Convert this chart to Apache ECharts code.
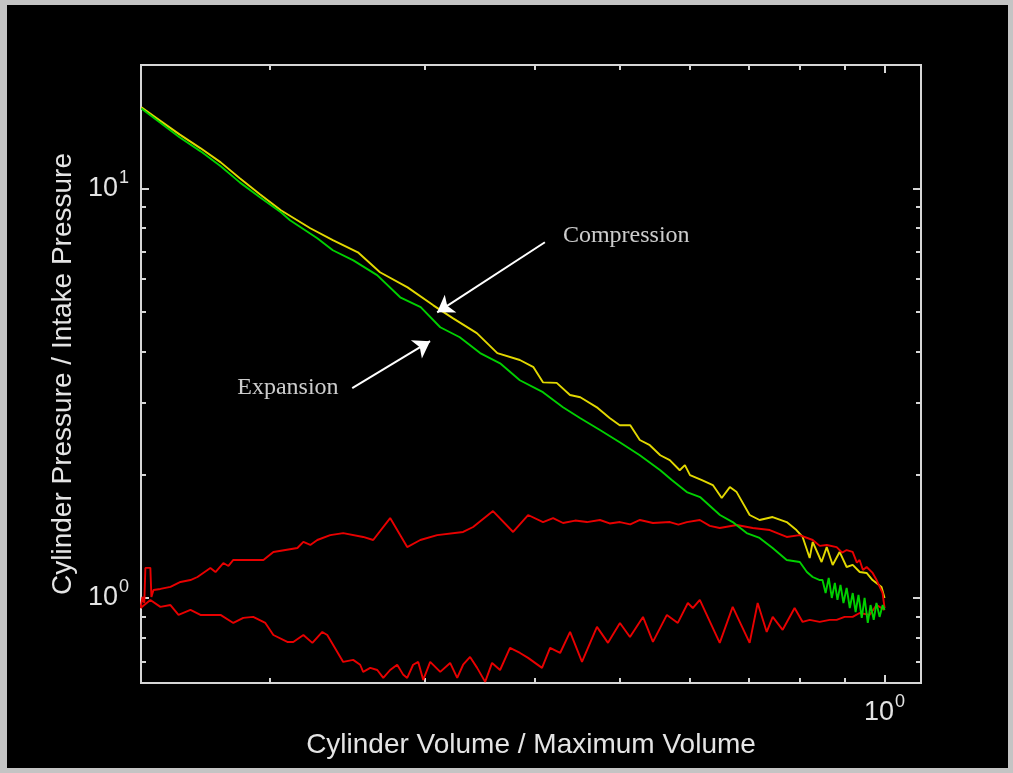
<!DOCTYPE html>
<html>
<head>
<meta charset="utf-8">
<script src="https://cdn.jsdelivr.net/npm/echarts@6/dist/echarts.min.js"></script>
<style>
  html, body { margin: 0; padding: 0; width: 1013px; height: 773px; overflow: hidden; background: #c4c4c4; }
  #chart { position: absolute; left: 7px; top: 5px; width: 1001px; height: 763px; background: #000; }
</style>
</head>
<body>
<div id="chart"></div>
<script>
// Log-log P-V diagram of a motored cylinder: [volume ratio, pressure ratio]
const compression = [
  [0.143, 15.76], [0.150, 14.65], [0.158, 13.54], [0.167, 12.52], [0.176, 11.57],
  [0.185, 10.58], [0.195, 9.67], [0.206, 8.84], [0.2225, 7.99], [0.236, 7.47],
  [0.252, 6.98], [0.267, 6.24], [0.287, 5.73], [0.307, 5.18], [0.323, 4.82],
  [0.344, 4.43], [0.363, 3.96], [0.385, 3.81], [0.399, 3.66], [0.409, 3.36],
  [0.424, 3.35], [0.439, 3.13], [0.451, 3.09], [0.472, 2.91], [0.487, 2.75],
  [0.500, 2.64], [0.514, 2.64], [0.527, 2.43], [0.541, 2.36], [0.556, 2.23],
  [0.570, 2.17], [0.585, 2.05], [0.593, 2.11], [0.601, 1.995], [0.620, 1.94],
  [0.638, 1.886], [0.653, 1.754], [0.667, 1.865], [0.679, 1.813], [0.7025, 1.594],
  [0.721, 1.55], [0.746, 1.576], [0.774, 1.532], [0.794, 1.465], [0.807, 1.409],
  [0.822, 1.252], [0.8285, 1.370], [0.848, 1.224], [0.8595, 1.331], [0.873, 1.204],
  [0.889, 1.295], [0.9055, 1.190], [0.920, 1.204], [0.937, 1.157], [0.954, 1.151],
  [0.969, 1.106], [0.992, 1.064], [1.0, 1.0]
];

const expansion = [
  [0.143, 15.67], [0.150, 14.49], [0.158, 13.32], [0.167, 12.31], [0.176, 11.32],
  [0.185, 10.34], [0.195, 9.51], [0.206, 8.74], [0.211, 8.36], [0.2266, 7.55],
  [0.236, 7.06], [0.249, 6.67], [0.265, 6.14], [0.2815, 5.42], [0.297, 5.13],
  [0.3126, 4.58], [0.329, 4.33], [0.347, 3.96], [0.3656, 3.74], [0.385, 3.40],
  [0.409, 3.18], [0.431, 2.92], [0.4506, 2.75], [0.4748, 2.57], [0.500, 2.40],
  [0.527, 2.23], [0.556, 2.05], [0.573, 1.94], [0.596, 1.813], [0.617, 1.763],
  [0.650, 1.594], [0.672, 1.532], [0.697, 1.440], [0.721, 1.401], [0.746, 1.324],
  [0.774, 1.238], [0.801, 1.224], [0.816, 1.157], [0.8285, 1.125], [0.844, 1.106],
  [0.850, 1.106], [0.857, 1.028], [0.864, 1.119], [0.871, 1.0], [0.878, 1.088],
  [0.884, 0.989], [0.891, 1.076], [0.898, 0.972], [0.9055, 1.058], [0.913, 0.945],
  [0.920, 1.028], [0.927, 0.924], [0.934, 1.017], [0.942, 0.894], [0.949, 1.0],
  [0.957, 0.869], [0.964, 0.961], [0.972, 0.884], [0.979, 0.972], [0.987, 0.899],
  [0.995, 0.961], [1.0, 0.935]
];

// Gas-exchange loop, upper branch (above intake pressure)
const exchangeUpper = [
  [0.1427, 0.945], [0.1434, 1.006], [0.1441, 0.972], [0.1445, 1.184], [0.1464, 1.184],
  [0.1468, 1.006], [0.1476, 1.046], [0.1503, 1.052], [0.1543, 1.064], [0.1584, 1.094],
  [0.1626, 1.106], [0.1656, 1.125], [0.1713, 1.184], [0.1736, 1.157], [0.1772, 1.217],
  [0.1796, 1.197], [0.1819, 1.238], [0.1887, 1.238], [0.1968, 1.238], [0.2020, 1.295],
  [0.2151, 1.324], [0.2185, 1.370], [0.2225, 1.347], [0.2266, 1.385], [0.2344, 1.424],
  [0.2425, 1.440], [0.2555, 1.409], [0.2623, 1.385], [0.2742, 1.567], [0.2867, 1.331],
  [0.2967, 1.385], [0.3101, 1.424], [0.3319, 1.449], [0.3407, 1.490], [0.3589, 1.630],
  [0.3783, 1.449], [0.3934, 1.594], [0.4091, 1.532], [0.4200, 1.567], [0.4311, 1.524],
  [0.4450, 1.545], [0.4589, 1.532], [0.4748, 1.550], [0.4870, 1.520], [0.5003, 1.532],
  [0.5140, 1.512], [0.5272, 1.550], [0.5454, 1.524], [0.5702, 1.532], [0.5830, 1.510],
  [0.5960, 1.532], [0.6166, 1.550], [0.6330, 1.500], [0.6496, 1.482], [0.6792, 1.507],
  [0.7081, 1.482], [0.7405, 1.465], [0.7740, 1.409], [0.8007, 1.424], [0.8285, 1.385],
  [0.8440, 1.340], [0.8595, 1.347], [0.8821, 1.331], [0.8950, 1.290], [0.9055, 1.309],
  [0.9198, 1.295], [0.9300, 1.220], [0.9367, 1.238], [0.9450, 1.170], [0.9541, 1.190],
  [0.9692, 1.151], [0.9793, 1.106], [0.9948, 1.028], [1.0, 0.945]
];

// Gas-exchange loop, lower branch (below intake pressure)
const exchangeLower = [
  [0.1427, 0.945], [0.1464, 0.989], [0.1503, 0.951], [0.1543, 0.961], [0.1576, 0.909],
  [0.1626, 0.935], [0.1669, 0.909], [0.1759, 0.909], [0.1819, 0.869], [0.1867, 0.894],
  [0.1916, 0.899], [0.1978, 0.869], [0.2020, 0.812], [0.2095, 0.781], [0.2128, 0.781],
  [0.2185, 0.812], [0.2237, 0.777], [0.2296, 0.826], [0.2326, 0.812], [0.2425, 0.698],
  [0.2489, 0.706], [0.2535, 0.687], [0.2555, 0.660], [0.2603, 0.675], [0.2651, 0.667],
  [0.2693, 0.638], [0.2742, 0.667], [0.2793, 0.687], [0.2838, 0.649], [0.2867, 0.638],
  [0.2912, 0.687], [0.2951, 0.698], [0.2990, 0.631], [0.3045, 0.698], [0.3126, 0.660],
  [0.3208, 0.694], [0.3268, 0.638], [0.3319, 0.687], [0.3380, 0.718], [0.3443, 0.675],
  [0.3516, 0.624], [0.3580, 0.694], [0.3656, 0.667], [0.3752, 0.755], [0.3852, 0.734],
  [0.3934, 0.714], [0.4080, 0.675], [0.4167, 0.755], [0.4278, 0.734], [0.4391, 0.826],
  [0.4530, 0.698], [0.4711, 0.850], [0.4849, 0.777], [0.5003, 0.869], [0.5136, 0.803],
  [0.5314, 0.899], [0.5454, 0.781], [0.5657, 0.909], [0.5821, 0.869], [0.5976, 0.972],
  [0.6054, 0.945], [0.6166, 0.989], [0.6496, 0.777], [0.6720, 0.951], [0.7025, 0.777],
  [0.7174, 0.972], [0.7346, 0.826], [0.7462, 0.899], [0.7659, 0.836], [0.7902, 0.945],
  [0.8070, 0.874], [0.8221, 0.884], [0.8437, 0.874], [0.8662, 0.884], [0.8821, 0.884],
  [0.9007, 0.899], [0.9198, 0.899], [0.9367, 0.919], [0.9615, 0.909], [0.9793, 0.961],
  [1.0, 0.935]
];

// Axis extents and tick values
const xRange = [1 / 7, 1.1];
const yRange = [0.62, 20];
const xMajorTicks = [1];
const xMinorTicks = [0.2, 0.3, 0.4, 0.5, 0.6, 0.7, 0.8, 0.9];
const yMajorTicks = [1, 10];
const yMinorTicks = [0.7, 0.8, 0.9, 2, 3, 4, 5, 6, 7, 8, 9];

// Callouts: text anchor and arrow [tail, head] in data coordinates
const callouts = [
  { text: 'Compression', at: [0.4309, 7.68], tail: [0.4111, 7.384], head: [0.3101, 4.98] },
  { text: 'Expansion', at: [0.1838, 3.252], tail: [0.2483, 3.252], head: [0.3044, 4.236] }
];

const FRAME = '#d6d6d6';
const TEXT = '#e4e4e4';
const SANS = '"Liberation Sans", Arial, Helvetica, sans-serif';

const powLabel = {
  formatter: v => '{b|10}{e|' + Math.round(Math.log10(v)) + '}',
  rich: {
    b: { fontSize: 27, fontFamily: SANS, color: TEXT, verticalAlign: 'bottom', lineHeight: 27 },
    e: { fontSize: 18, fontFamily: SANS, color: TEXT, verticalAlign: 'bottom', lineHeight: 18, padding: [0, 0, 15, 1] }
  }
};

function makeAxis(dim, position, ticks, len, labels, extra) {
  const range = dim === 'x' ? xRange : yRange;
  return {
    type: 'log',
    logBase: 10,
    min: range[0],
    max: range[1],
    position: position,
    axisLine: { show: false },
    splitLine: { show: false },
    axisTick: { show: true, inside: true, length: len, customValues: ticks, lineStyle: { color: FRAME, width: 2 } },
    axisLabel: labels
      ? Object.assign({ show: true, customValues: labels }, powLabel, extra || {})
      : { show: false }
  };
}

const xAxes = [
  Object.assign(makeAxis('x', 'bottom', xMajorTicks, 8, xMajorTicks, { margin: 16 }), {
    name: 'Cylinder Volume / Maximum Volume',
    nameLocation: 'middle',
    nameGap: 47,
    nameTextStyle: { color: TEXT, fontSize: 28, fontFamily: SANS }
  }),
  makeAxis('x', 'bottom', xMinorTicks, 5),
  makeAxis('x', 'top', xMajorTicks, 8),
  makeAxis('x', 'top', xMinorTicks, 5)
];

const yAxes = [
  Object.assign(makeAxis('y', 'left', yMajorTicks, 8, yMajorTicks, { margin: 12 }), {
    name: 'Cylinder Pressure / Intake Pressure',
    nameLocation: 'middle',
    nameGap: 62,
    nameRotate: 90,
    nameTextStyle: { color: TEXT, fontSize: 28, fontFamily: SANS }
  }),
  makeAxis('y', 'left', yMinorTicks, 5),
  makeAxis('y', 'right', yMajorTicks, 8),
  makeAxis('y', 'right', yMinorTicks, 5)
];

function curve(name, data, color) {
  return {
    name: name,
    type: 'line',
    data: data,
    showSymbol: false,
    symbol: 'none',
    smooth: false,
    lineStyle: { color: color, width: 1.9 },
    z: 3
  };
}

const chart = echarts.init(document.getElementById('chart'), null, { renderer: 'canvas' });
chart.setOption({
  backgroundColor: '#000',
  animation: false,
  grid: {
    show: true,
    left: 134, top: 60, width: 780, height: 618,
    borderColor: FRAME, borderWidth: 2,
    backgroundColor: '#000'
  },
  xAxis: xAxes,
  yAxis: yAxes,
  series: [
    curve('Compression', compression, '#e2d800'),
    curve('Exchange upper', exchangeUpper, '#e80000'),
    curve('Exchange lower', exchangeLower, '#e80000'),
    curve('Expansion', expansion, '#00d000'),
    {
      name: 'Callouts',
      type: 'scatter',
      symbolSize: 0,
      silent: true,
      data: callouts.map(c => ({ name: c.text, value: c.at })),
      label: {
        show: true,
        position: 'right',
        distance: 0,
        formatter: '{b}',
        color: '#ffffff',
        fontSize: 24,
        fontFamily: '"Liberation Serif", "Times New Roman", serif'
      },
      markLine: {
        silent: true,
        symbol: ['none', 'arrow'],
        symbolSize: 16,
        label: { show: false },
        lineStyle: { color: '#ffffff', width: 2, type: 'solid' },
        data: callouts.map(c => [{ coord: c.tail }, { coord: c.head }])
      },
      z: 5
    }
  ]
});
</script>
</body>
</html>
